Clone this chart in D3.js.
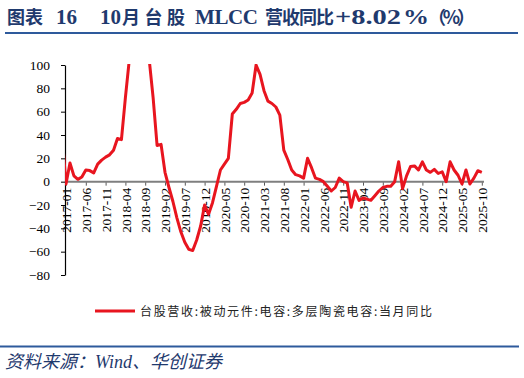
<!DOCTYPE html>
<html>
<head>
<meta charset="utf-8">
<script src="https://cdn.jsdelivr.net/npm/d3@7"></script>
<style>
  body { margin: 0; background: #fff; }
</style>
</head>
<body>
<div id="chart"></div>
<script>
// monthly YoY (%) of Taiwan-listed MLCC revenue
const v2016 = [40]; // Dec 2016, clipped at the axis
const v2017 = [-2, 16, 5, 2, 4, 10, 9.5, 7.5, 15, 18.5, 21, 23];
const v2018 = [27, 37, 36, 72, 105, 160, 200, 200, 160, 105, 72, 31];
const v2019 = [32, 8, -5, -17, -31, -43, -52, -58, -59, -50, -38, -20];
const v2020 = [-28, -18, -4, 10, 15, 20, 58, 62, 67, 68, 70, 76];
const v2021 = [100, 92, 78, 69, 67, 64, 57, 27, 19, 10, 6, 5];
const v2022 = [3, 20, 12, 3, 2, 0, -4, -8, -5, 3, 0, -1];
const v2023 = [-22, -8, -16, -14, -15, -16, -12, -8, -5, -4, -4, 0];
const v2024 = [17, -6, 5, 13, 13.5, 10, 17, 10, 8, 10.5, 7, 8.5];
const v2025 = [0, 17, 10, 5.5, -2, 10, -2, 3, 9.4, 8.02];

const values = [].concat(v2016, v2017, v2018, v2019, v2020, v2021, v2022, v2023, v2024, v2025);
const firstMonth = new Date(2016, 11, 1);
const data = values.map((v, i) => ({ idx: i - 1, month: d3.timeMonth.offset(firstMonth, i), value: v }));

const yTicks = [100, 80, 60, 40, 20, 0, -20, -40, -60, -80];
const xTickIdx = d3.range(0, 106, 5);
const fmt = d3.timeFormat("%Y-%m");

// title pieces: [text, x, width or null, latin?, stretch glyphs?]
const titleParts = [
  ["图表", 7, null, false, false],
  ["16", 56, null, true, false],
  ["10", 100, null, true, false],
  ["月台股", 122, 63, false, false],
  ["MLCC", 195, 63, true, false],
  ["营收同比", 265, 69, false, false],
  ["+8.02", 335, 66, true, true],
  ["%", 403, 26, true, true],
  ["（%）", 428, 47, false, false]
];
const legendText = "台股营收:被动元件:电容:多层陶瓷电容:当月同比";
const sourceText = "资料来源：Wind、华创证券";

const W = 524, H = 378;
const plot = { left: 65, right: 484, top: 65, bottom: 275 };
const red = "#e8151f", navy = "#1f3a6e";

const svg = d3.select("#chart").append("svg")
  .attr("width", W).attr("height", H)
  .style("background-color", "#fff");

// title
const title = svg.append("text")
  .attr("y", 24)
  .style("font-weight", "bold")
  .style("fill", navy);
titleParts.forEach(p => {
  const t = title.append("tspan")
    .attr("x", p[1])
    .style("font-family", p[3] ? "'Liberation Serif',serif" : "'Noto Sans CJK SC',sans-serif")
    .style("font-size", p[3] ? "21px" : "18px")
    .text(p[0]);
  if (p[2]) t.attr("textLength", p[2]).attr("lengthAdjust", p[4] ? "spacingAndGlyphs" : "spacing");
});

svg.append("line")
  .attr("x1", 5).attr("x2", 518).attr("y1", 33).attr("y2", 33)
  .attr("stroke", "#2e5a9c").attr("stroke-width", 1.8);

const x = d3.scaleLinear().domain([0, 105]).range([66, 481.8]);
const y = d3.scaleLinear().domain([-80, 100]).range([plot.bottom, plot.top]);

// y axis
const yAxis = svg.append("g")
  .attr("transform", "translate(" + plot.left + ",0)")
  .call(d3.axisLeft(y).tickValues(yTicks).tickSize(4).tickPadding(11).tickSizeOuter(0));
yAxis.select(".domain").attr("stroke", "#000").attr("stroke-width", 1.2);
yAxis.selectAll(".tick line").attr("stroke", "#000");
yAxis.selectAll("text")
  .style("font-family", "'Liberation Serif',serif")
  .style("font-size", "13.5px")
  .style("fill", "#000");

// x axis at zero
const xAxis = svg.append("g")
  .attr("transform", "translate(0," + y(0) + ")")
  .call(d3.axisBottom(x).tickValues(xTickIdx)
    .tickFormat(i => fmt(d3.timeMonth.offset(firstMonth, i + 1)))
    .tickSize(4).tickSizeOuter(0));
xAxis.select(".domain").remove();
xAxis.append("line")
  .attr("x1", plot.left).attr("x2", plot.right)
  .attr("stroke", "#7f7f7f").attr("stroke-width", 2);
xAxis.selectAll(".tick line").attr("stroke", "#595959").attr("stroke-width", 1);
xAxis.selectAll("text")
  .attr("transform", "rotate(-90)")
  .attr("x", -6).attr("y", 0).attr("dy", "0.35em")
  .style("text-anchor", "end")
  .style("font-family", "'Liberation Serif',serif")
  .style("font-size", "13.5px")
  .style("fill", "#000");

// line, clipped to the plot area
svg.append("clipPath").attr("id", "clip")
  .append("rect")
  .attr("x", plot.left).attr("y", plot.top - 1)
  .attr("width", plot.right - plot.left + 4).attr("height", plot.bottom - plot.top + 2);

const line = d3.line()
  .x(d => x(d.idx))
  .y(d => y(d.value));

svg.append("path")
  .datum(data)
  .attr("clip-path", "url(#clip)")
  .attr("d", line)
  .attr("fill", "none")
  .attr("stroke", red)
  .attr("stroke-width", 3)
  .attr("stroke-linejoin", "round");

// legend
svg.append("line")
  .attr("x1", 95).attr("x2", 135).attr("y1", 311).attr("y2", 311)
  .attr("stroke", red).attr("stroke-width", 3);
svg.append("text")
  .attr("x", 140).attr("y", 315.5)
  .attr("textLength", 292)
  .style("font-family", "'Noto Sans CJK SC',sans-serif")
  .style("font-size", "12px")
  .style("fill", "#222")
  .text(legendText);

// footer
svg.append("line")
  .attr("x1", 0).attr("x2", 519).attr("y1", 346.5).attr("y2", 346.5)
  .attr("stroke", "#2e5a9c").attr("stroke-width", 1.8);
svg.append("text")
  .attr("x", 5).attr("y", 368)
  .style("font-family", "'Liberation Serif','Noto Sans CJK SC',serif")
  .style("font-style", "italic")
  .style("font-size", "18px")
  .style("fill", navy)
  .text(sourceText);
</script>
</body>
</html>
